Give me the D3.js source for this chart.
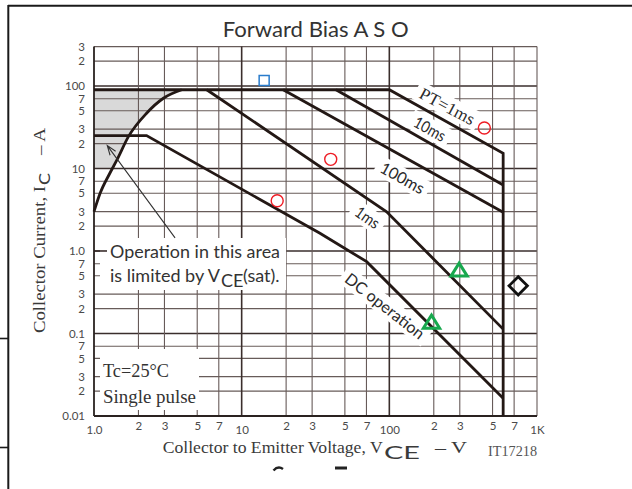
<!DOCTYPE html>
<html><head><meta charset="utf-8">
<script src="https://cdn.jsdelivr.net/npm/d3@7"></script>
<style>
html,body{margin:0;padding:0;background:#fff;}
svg{display:block;}
</style></head>
<body>
<svg id="chart" width="632" height="489"></svg>
<script>
// ---- axis ticks ----
const xTickValues = [1,2,3,5,7,10,20,30,50,70,100,200,300,500,700,1000];
const xTickLabels = ["1.0","2","3","5","7","10","2","3","5","7","100","2","3","5","7","1K"];
const yTickValues = [0.01,0.02,0.03,0.05,0.07,0.1,0.2,0.3,0.5,0.7,1,2,3,5,7,10,20,30,50,70,100,200,300];
const yTickLabels = ["0.01","2","3","5","7","0.1","2","3","5","7","1.0","2","3","5","7","10","2","3","5","7","100","2","3"];

// ---- SOA boundaries, [VCE (V), IC (A)] ----
const pt1ms   = [[1,90],[100,90],[590,15.3],[590,0.01]];
const pt10ms  = [[43.5,90],[590,6.3]];
const pt100ms = [[19.1,90],[590,2.94]];
const pt1s    = [[5.8,90],[95.9,2.99],[590,0.113]];
const dcOperation = [[1,25],[2.27,25],[33.9,1.64],[70.2,0.742],[590,0.0164]];
const vceSatLimit = [[1.0,3.0],[1.1,5.0],[1.28,8.75],[1.43,12.7],[1.71,24.3],[2.27,46.7],[2.95,71],[3.93,90]];

// ---- curve names ----
const curveLabels = ["PT=1ms","10ms","100ms","1ms","DC operation"];

// ---- marked operating points, [VCE (V), IC (A)] ----
const squarePoints   = [[14.2,116.6]];
const circlePoints   = [[17.4,4.06],[40.1,12.9],[440,31]];
const trianglePoints = [[297,0.56],[193,0.131]];
const diamondPoints  = [[746,0.378]];

const svg = d3.select("#chart");
const W = 632, H = 489;
svg.append("rect").attr("width", W).attr("height", H).attr("fill", "#fff");

const x = d3.scaleLog().domain([1, 1000]).range([94, 537]);
const y = d3.scaleLog().domain([0.01, 300]).range([416, 46.6]);
const line = d3.line().x(d => x(d[0])).y(d => y(d[1]));

const SANS = "Lato, 'Open Sans', sans-serif";
const SERIF = "'Liberation Serif', 'DejaVu Serif', serif";
const INK = "#231815";

// page frame
const frame = svg.append("g").attr("stroke", "#1a1a1a").attr("fill", "none");
frame.append("line").attr("x1", 8).attr("x2", W).attr("y1", 5.8).attr("y2", 5.8).attr("stroke-width", 2);
frame.append("line").attr("x1", 8.3).attr("x2", 8.3).attr("y1", 5).attr("y2", H).attr("stroke-width", 2);
frame.append("line").attr("x1", 0).attr("x2", 8).attr("y1", 338.5).attr("y2", 338.5).attr("stroke-width", 1.6);
frame.append("line").attr("x1", 0).attr("x2", 8).attr("y1", 447.5).attr("y2", 447.5).attr("stroke-width", 1.6);

// shaded saturation-limited region
svg.append("clipPath").attr("id", "shadeClip").append("rect")
  .attr("x", x(1)).attr("y", y(90)).attr("width", x(1000) - x(1)).attr("height", y(10) - y(90));
const satLine = d3.line().x(d => x(d[0])).y(d => y(d[1])).curve(d3.curveMonotoneX);
svg.append("path")
  .attr("d", satLine(vceSatLimit) + `L${x(1)},${y(90)}Z`)
  .attr("fill", "#d9d9d9")
  .attr("clip-path", "url(#shadeClip)");

// grid
const isDecade = v => Math.abs(Math.log10(v) - Math.round(Math.log10(v))) < 1e-9;
const grid = svg.append("g");
grid.selectAll("line.h").data(yTickValues.slice(1)).join("line").attr("class", "h")
  .attr("x1", x(1)).attr("x2", x(1000))
  .attr("y1", d => y(d)).attr("y2", d => y(d))
  .attr("stroke", d => isDecade(d) ? "#3a2e2c" : "#675b59")
  .attr("stroke-width", d => isDecade(d) ? 1.6 : 1.1);
grid.selectAll("line.v").data(xTickValues.slice(1)).join("line").attr("class", "v")
  .attr("y1", y(0.01)).attr("y2", y(300))
  .attr("x1", d => x(d)).attr("x2", d => x(d))
  .attr("stroke", d => (isDecade(d) && d < 1000) ? "#3a2e2c" : "#675b59")
  .attr("stroke-width", d => (isDecade(d) && d < 1000) ? 1.6 : 1.1);

// blank panels for the notes
const blank = svg.append("g").attr("fill", "#fff");
blank.append("rect").attr("x", 100).attr("y", 238).attr("width", 186).attr("height", 52);
blank.append("rect").attr("x", 100).attr("y", 349).attr("width", 99).attr("height", 61);
svg.append("line").attr("x1", x(1)).attr("x2", x(1) + 13).attr("y1", y(1)).attr("y2", y(1))
  .attr("stroke", "#3a2e2c").attr("stroke-width", 1.6);

// curve label placement (label centre in data units, angle in degrees, text length in px)
const labelPlacement = [
  { at: [247, 57.2], angle: 28, len: 60, font: SERIF, size: 17 },
  { at: [188, 30.1], angle: 29, len: 34, font: SANS, size: 16 },
  { at: [122.7, 7.67], angle: 29, len: 48, font: SANS, size: 16 },
  { at: [71.1, 2.55], angle: 35, len: 26, font: SANS, size: 16 },
  { at: [93.3, 0.215], angle: 38, len: 96, font: SANS, size: 16 }
];
const labelGroups = svg.append("g").selectAll("g").data(labelPlacement).join("g")
  .attr("transform", d => `translate(${x(d.at[0])},${y(d.at[1])}) rotate(${d.angle})`);
labelGroups.append("rect")
  .attr("x", d => -d.len / 2 - 5).attr("y", -10)
  .attr("width", d => d.len + 10).attr("height", 20)
  .attr("fill", "#fff");

// axes
svg.append("line").attr("x1", x(1)).attr("x2", x(1)).attr("y1", y(0.01)).attr("y2", y(300))
  .attr("stroke", "#2a2220").attr("stroke-width", 1.8);
svg.append("line").attr("x1", x(1)).attr("x2", x(1000)).attr("y1", y(0.01)).attr("y2", y(0.01))
  .attr("stroke", "#2a2220").attr("stroke-width", 2);

const gy = svg.append("g").attr("transform", `translate(${x(1)},0)`)
  .call(d3.axisLeft(y).tickValues(yTickValues).tickFormat((d, i) => yTickLabels[i]).tickSize(0).tickPadding(9));
gy.select(".domain").remove();
gy.selectAll("text").attr("font-family", SANS).attr("font-size", 11.5).attr("fill", "#4a4a4a");

const gx = svg.append("g").attr("transform", `translate(0,${y(0.01)})`)
  .call(d3.axisBottom(x).tickValues(xTickValues).tickFormat((d, i) => xTickLabels[i]).tickSize(0).tickPadding(6));
gx.select(".domain").remove();
gx.selectAll("text").attr("font-family", SANS).attr("font-size", 11.5).attr("fill", "#4a4a4a")
  .attr("dy", (d, i) => xTickLabels[i].length > 1 ? "1.05em" : "0.71em");

// SOA curves
const curves = svg.append("g").attr("fill", "none").attr("stroke", INK)
  .attr("stroke-width", 2.8).attr("stroke-linejoin", "miter");
[pt1ms, pt10ms, pt100ms, pt1s, dcOperation].forEach(c => curves.append("path").attr("d", line(c)));
curves.append("path").attr("d", satLine(vceSatLimit));

// curve labels
labelGroups.append("text")
  .attr("text-anchor", "middle").attr("dy", "0.36em")
  .attr("font-family", d => d.font).attr("font-size", d => d.size)
  .attr("textLength", d => d.len).attr("lengthAdjust", "spacingAndGlyphs")
  .attr("fill", "#2b2b2b")
  .text((d, i) => curveLabels[i]);

// annotation arrow
const tail = [x(3.54), y(1.44)], tip = [x(1.23), y(18.9)];
const ang = Math.atan2(tip[1] - tail[1], tip[0] - tail[0]);
const head = (a) => [tip[0] - 10 * Math.cos(ang + a), tip[1] - 10 * Math.sin(ang + a)];
const h1 = head(0.35), h2 = head(-0.35);
svg.append("path")
  .attr("d", `M${tail}L${tip}M${h1}L${tip}L${h2}`)
  .attr("fill", "none").attr("stroke", "#333").attr("stroke-width", 1.1);

// notes
const note = svg.append("g").attr("font-family", SANS).attr("font-size", 18).attr("fill", "#333");
note.append("text").attr("x", 110).attr("y", 258).attr("textLength", 170).attr("lengthAdjust", "spacingAndGlyphs")
  .text("Operation in this area");
const n2 = note.append("text").attr("y", 281.5);
n2.append("tspan").attr("x", 110).attr("textLength", 110).attr("lengthAdjust", "spacingAndGlyphs").text("is limited by V");
n2.append("tspan").attr("x", 221).attr("dy", 5).text("CE");
n2.append("tspan").attr("x", 243).attr("dy", -5).text("(sat).");

const cond = svg.append("g").attr("font-family", SERIF).attr("font-size", 18).attr("fill", "#333");
cond.append("text").attr("x", 103).attr("y", 377).attr("textLength", 66).attr("lengthAdjust", "spacingAndGlyphs").text("Tc=25°C");
cond.append("text").attr("x", 103).attr("y", 403).attr("textLength", 93).attr("lengthAdjust", "spacingAndGlyphs").text("Single pulse");

// title
svg.append("text").attr("x", 222.7).attr("y", 36.7)
  .attr("font-family", SANS).attr("font-size", 21).attr("fill", "#333")
  .attr("textLength", 186).attr("lengthAdjust", "spacingAndGlyphs")
  .text("Forward Bias A S O");

// x-axis title
const xt = svg.append("text").attr("y", 453.3).attr("font-family", SERIF).attr("font-size", 17).attr("fill", "#3a3a3a");
xt.append("tspan").attr("x", 162.7).attr("textLength", 220).attr("lengthAdjust", "spacingAndGlyphs").text("Collector to Emitter Voltage, V");
xt.append("tspan").attr("x", 384).attr("dy", 6).attr("font-family", SANS).attr("font-size", 17)
  .attr("textLength", 36).attr("lengthAdjust", "spacingAndGlyphs").text("CE");
xt.append("tspan").attr("x", 435).attr("dy", -6).attr("textLength", 32).attr("lengthAdjust", "spacingAndGlyphs").text("–  V");
svg.append("text").attr("x", 488).attr("y", 456).attr("font-family", SERIF).attr("font-size", 14)
  .attr("fill", "#555").attr("textLength", 49).attr("lengthAdjust", "spacingAndGlyphs").text("IT17218");

// y-axis title
const yt = svg.append("text").attr("transform", "translate(45,333) rotate(-90)")
  .attr("font-family", SERIF).attr("font-size", 17).attr("fill", "#3a3a3a");
yt.append("tspan").attr("x", 0).attr("textLength", 147).attr("lengthAdjust", "spacingAndGlyphs").text("Collector Current, I");
yt.append("tspan").attr("x", 148).attr("dy", 5).attr("font-family", SANS).attr("font-size", 15)
  .attr("textLength", 12).attr("lengthAdjust", "spacingAndGlyphs").text("C");
yt.append("tspan").attr("x", 178).attr("dy", -5).attr("textLength", 27).attr("lengthAdjust", "spacingAndGlyphs").text("–  A");

// tops of the next line of the sheet
svg.append("path").attr("d", "M273.5,470.5 Q278,465.5 283,469").attr("fill", "none").attr("stroke", "#222").attr("stroke-width", 2.5);
svg.append("rect").attr("x", 335).attr("y", 466.5).attr("width", 12).attr("height", 3).attr("fill", "#222");

// marked operating points
const marks = svg.append("g").attr("fill", "none");
marks.selectAll("path.sq").data(squarePoints).join("path").attr("class", "sq")
  .attr("transform", d => `translate(${x(d[0])},${y(d[1])})`)
  .attr("d", d3.symbol(d3.symbolSquare, 100))
  .attr("stroke", "#2a7ccc").attr("stroke-width", 1.5);
marks.selectAll("circle").data(circlePoints).join("circle")
  .attr("cx", d => x(d[0])).attr("cy", d => y(d[1])).attr("r", 6)
  .attr("stroke", "#ee1c24").attr("stroke-width", 1.4);
const flatTriangle = {
  draw(ctx, size) {
    const w = Math.sqrt(size) * 1.25, h = Math.sqrt(size);
    ctx.moveTo(0, -2 * h / 3); ctx.lineTo(w / 2, h / 3); ctx.lineTo(-w / 2, h / 3); ctx.closePath();
  }
};
marks.selectAll("path.tri").data(trianglePoints).join("path").attr("class", "tri")
  .attr("transform", d => `translate(${x(d[0])},${y(d[1])})`)
  .attr("d", d3.symbol(flatTriangle, 169))
  .attr("stroke", "#18a84e").attr("stroke-width", 3).attr("stroke-linejoin", "miter");
marks.selectAll("path.dia").data(diamondPoints).join("path").attr("class", "dia")
  .attr("transform", d => `translate(${x(d[0])},${y(d[1])}) rotate(45)`)
  .attr("d", d3.symbol(d3.symbolSquare, 169))
  .attr("stroke", "#111").attr("stroke-width", 2.8);
</script>
</body></html>
